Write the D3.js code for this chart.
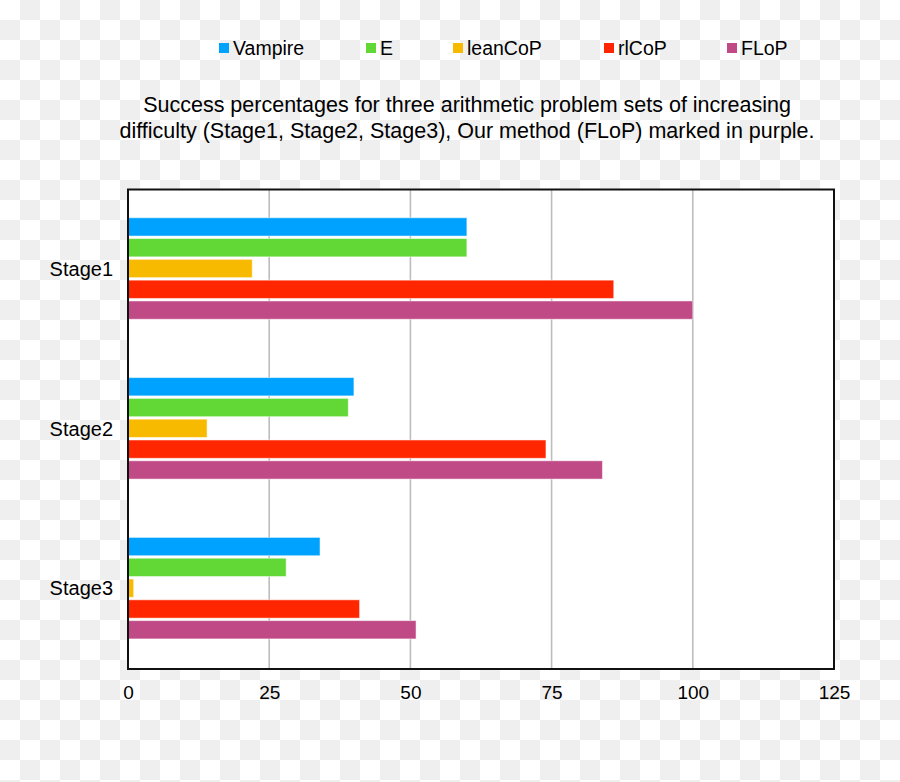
<!DOCTYPE html>
<html><head><meta charset="utf-8">
<script src="https://cdn.jsdelivr.net/npm/d3@7/dist/d3.min.js"></script>
<style>body{margin:0;padding:0;overflow:hidden;background:#fff}svg{display:block}</style>
</head><body>
<svg id="chart" width="900" height="782"></svg>
<script>
const stages = ["Stage1", "Stage2", "Stage3"];
const seriesNames = ["Vampire", "E", "leanCoP", "rlCoP", "FLoP"];
const vampire = [60, 40, 34];
const eProver = [60, 39, 28];
const leanCoP = [22, 14, 1];
const rlCoP = [86, 74, 41];
const flop = [100, 84, 51];
const seriesValues = [vampire, eProver, leanCoP, rlCoP, flop];
const colors = ["#00a2ff", "#61d836", "#f8ba00", "#ff2600", "#bf4a86"];
const xTicks = [0, 25, 50, 75, 100, 125];
const titleLines = ["Success percentages for three arithmetic problem sets of increasing",
  "difficulty (Stage1, Stage2, Stage3), Our method (FLoP) marked in purple."];

(function () {
const svg = d3.select("#chart");
const W = 900, H = 782;
const font = "'Liberation Sans', Arial, Helvetica, sans-serif";

// checkerboard background
const defs = svg.append("defs");
const pat = defs.append("pattern").attr("id", "chk").attr("width", 40).attr("height", 40)
  .attr("patternUnits", "userSpaceOnUse");
pat.append("rect").attr("width", 40).attr("height", 40).attr("fill", "#ffffff");
pat.append("rect").attr("x", 20).attr("y", 0).attr("width", 20).attr("height", 20).attr("fill", "#efefef");
pat.append("rect").attr("x", 0).attr("y", 20).attr("width", 20).attr("height", 20).attr("fill", "#efefef");
svg.append("rect").attr("width", W).attr("height", H).attr("fill", "url(#chk)");

const pL = 128, pR = 834, pT = 189.5, pB = 669;

const x = d3.scaleLinear().domain([0, 125]).range([pL, pR]);
const y0 = d3.scaleBand().domain(stages).range([pT, pB]).padding(0);
const y1 = d3.scaleBand().domain(seriesNames).range([27, 131])
  .paddingInner(0.12).paddingOuter(0.06);

// plot background
svg.append("rect").attr("x", pL).attr("y", pT).attr("width", pR - pL)
  .attr("height", pB - pT).attr("fill", "#ffffff");

// gridlines
svg.append("g").selectAll("line").data(xTicks.filter(t => t > 0 && t < 125)).join("line")
  .attr("x1", d => x(d)).attr("x2", d => x(d))
  .attr("y1", pT).attr("y2", pB)
  .attr("stroke", "#bdbdbd").attr("stroke-width", 1.6);

// bars
const groups = svg.append("g").selectAll("g").data(stages).join("g")
  .attr("transform", d => `translate(0,${y0(d)})`);
groups.selectAll("rect").data((s, i) => seriesNames.map((n, k) => ({ n, k, v: seriesValues[k][i] })))
  .join("rect")
  .attr("x", x(0))
  .attr("y", d => y1(d.n))
  .attr("width", d => x(d.v) - x(0))
  .attr("height", y1.bandwidth())
  .attr("fill", d => colors[d.k])
  .attr("stroke", "rgba(255,255,255,0.5)").attr("stroke-width", 1);

// frame
svg.append("rect").attr("x", pL).attr("y", pT).attr("width", pR - pL)
  .attr("height", pB - pT).attr("fill", "none")
  .attr("stroke", "#111").attr("stroke-width", 2);

// x axis labels
const xAxis = d3.axisBottom(x).tickValues(xTicks).tickSize(0).tickPadding(0);
const gx = svg.append("g").attr("transform", `translate(0,${pB})`).call(xAxis);
gx.select(".domain").remove();
gx.selectAll("text").attr("font-family", font).attr("font-size", 19).attr("fill", "#000")
  .attr("dy", null).attr("y", 30);

// y axis labels
const yAxis = d3.axisLeft(y0).tickSize(0).tickPadding(0);
const gy = svg.append("g").attr("transform", `translate(113,0)`).call(yAxis);
gy.select(".domain").remove();
gy.selectAll("text").attr("font-family", font).attr("font-size", 20).attr("fill", "#000");

// title
svg.append("g").selectAll("text").data(titleLines).join("text")
  .attr("x", 467).attr("y", (d, i) => 112 + i * 26)
  .attr("text-anchor", "middle").attr("font-family", font).attr("font-size", 21.5)
  .attr("fill", "#000").text(d => d);

// legend
const legendX = [219, 366, 453, 604, 727];
const lg = svg.append("g").selectAll("g").data(seriesNames).join("g")
  .attr("transform", (d, i) => `translate(${legendX[i]},43)`);
lg.append("rect").attr("width", 10).attr("height", 10).attr("fill", (d, i) => colors[i]);
lg.append("text").attr("x", 14).attr("y", 12).attr("font-family", font).attr("font-size", 19.5)
  .attr("fill", "#000").text(d => d);
})();
</script>
</body></html>
